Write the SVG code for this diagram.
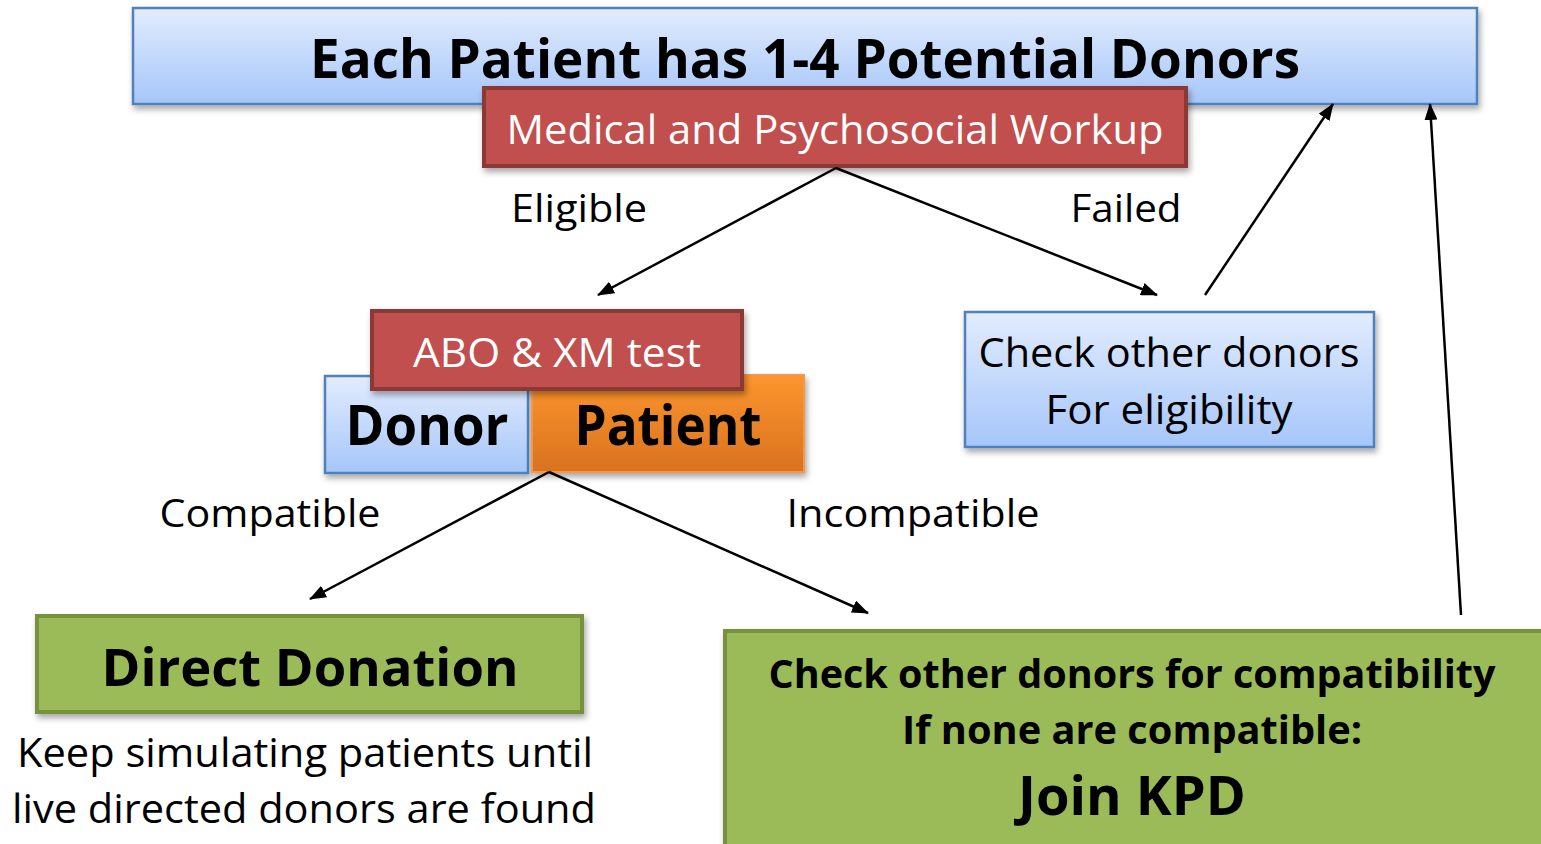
<svg xmlns="http://www.w3.org/2000/svg" width="1541" height="844" viewBox="0 0 1541 844">
<style>
text{font-family:"Open Sans","Noto Sans","DejaVu Sans",sans-serif;text-anchor:middle}
.b{font-weight:bold;fill:#000}
.w{fill:#fff}
.n{fill:#000}
.blue{stroke:#4f81bd;stroke-width:2.5}
.red{fill:#c0504d;stroke:#8c3836;stroke-width:4}
.grn{fill:#9bbb59;stroke:#76923c;stroke-width:4}
.conn line{stroke:#000;stroke-width:2.5;marker-end:url(#ah)}
</style>
<defs>
<linearGradient id="gb" x1="0" y1="0" x2="0" y2="1"><stop offset="0" stop-color="#e2ecfd"/><stop offset="1" stop-color="#a6c6fa"/></linearGradient>
<linearGradient id="go" x1="0" y1="0" x2="0" y2="1"><stop offset="0" stop-color="#fd952e"/><stop offset="1" stop-color="#d9721f"/></linearGradient>
<filter id="sh" x="-5%" y="-10%" width="110%" height="130%"><feDropShadow dx="2" dy="4" stdDeviation="3" flood-color="#000" flood-opacity="0.35"/></filter>
<marker id="ah" markerWidth="17" markerHeight="13" refX="16" refY="6.5" orient="auto" markerUnits="userSpaceOnUse" viewBox="0 0 17 13"><path d="M0,0 L17,6.5 L0,13 Z" fill="#000"/></marker>
</defs>
<rect width="1541" height="844" fill="#fff"/>
<g id="top">
<rect x="133" y="8" width="1344" height="96" fill="url(#gb)" class="blue" filter="url(#sh)"/>
<text x="805" y="78" class="b" font-size="54" textLength="990" lengthAdjust="spacingAndGlyphs">Each Patient has 1-4 Potential Donors</text>
</g>
<g id="workup">
<rect x="484" y="88" width="702" height="78" class="red" filter="url(#sh)"/>
<text x="835" y="144" class="w" font-size="40" textLength="657" lengthAdjust="spacingAndGlyphs">Medical and Psychosocial Workup</text>
</g>
<g id="labels">
<text x="579" y="222" class="n" font-size="38" textLength="136" lengthAdjust="spacingAndGlyphs">Eligible</text>
<text x="1126" y="222" class="n" font-size="38" textLength="111" lengthAdjust="spacingAndGlyphs">Failed</text>
<text x="270" y="527" class="n" font-size="38" textLength="221" lengthAdjust="spacingAndGlyphs">Compatible</text>
<text x="913" y="527" class="n" font-size="38" textLength="253" lengthAdjust="spacingAndGlyphs">Incompatible</text>
</g>
<g id="donor">
<rect x="325" y="376" width="203" height="97" fill="url(#gb)" class="blue" filter="url(#sh)"/>
<text x="427" y="445" class="b" font-size="56" textLength="163" lengthAdjust="spacingAndGlyphs">Donor</text>
</g>
<g id="patient">
<rect x="532" y="375" width="272" height="97" fill="url(#go)" stroke="#f79646" stroke-width="2" filter="url(#sh)"/>
<text x="668" y="445" class="b" font-size="56" textLength="187" lengthAdjust="spacingAndGlyphs">Patient</text>
</g>
<g id="abo">
<rect x="372" y="311" width="370" height="78" class="red" filter="url(#sh)"/>
<text x="557" y="367" class="w" font-size="40" textLength="288" lengthAdjust="spacingAndGlyphs">ABO &amp; XM test</text>
</g>
<g id="checkelig">
<rect x="965" y="312" width="409" height="135" fill="url(#gb)" class="blue" filter="url(#sh)"/>
<text x="1169" y="367" class="n" font-size="40" textLength="381" lengthAdjust="spacingAndGlyphs">Check other donors</text>
<text x="1169" y="424" class="n" font-size="40" textLength="247" lengthAdjust="spacingAndGlyphs">For eligibility</text>
</g>
<g id="direct">
<rect x="37" y="616" width="545" height="96" class="grn" filter="url(#sh)"/>
<text x="310" y="686" class="b" font-size="52" textLength="417" lengthAdjust="spacingAndGlyphs">Direct Donation</text>
</g>
<g id="keep">
<text x="305" y="767" class="n" font-size="40" textLength="576" lengthAdjust="spacingAndGlyphs">Keep simulating patients until</text>
<text x="304" y="823" class="n" font-size="40" textLength="584" lengthAdjust="spacingAndGlyphs">live directed donors are found</text>
</g>
<g id="kpd">
<rect x="725" y="631" width="818" height="220" class="grn" filter="url(#sh)"/>
<text x="1132" y="688" class="b" font-size="40" textLength="727" lengthAdjust="spacingAndGlyphs">Check other donors for compatibility</text>
<text x="1132" y="744" class="b" font-size="40" textLength="460" lengthAdjust="spacingAndGlyphs">If none are compatible:</text>
<text x="1132" y="815" class="b" font-size="54" textLength="228" lengthAdjust="spacingAndGlyphs">Join KPD</text>
</g>
<g id="connectors" class="conn">
<line x1="836" y1="168" x2="598" y2="295"/>
<line x1="836" y1="168" x2="1157" y2="295"/>
<line x1="1205" y1="295" x2="1333" y2="104"/>
<line x1="1461" y1="615" x2="1430" y2="104"/>
<line x1="549" y1="472" x2="310" y2="599"/>
<line x1="549" y1="472" x2="868" y2="613"/>
</g>
</svg>
